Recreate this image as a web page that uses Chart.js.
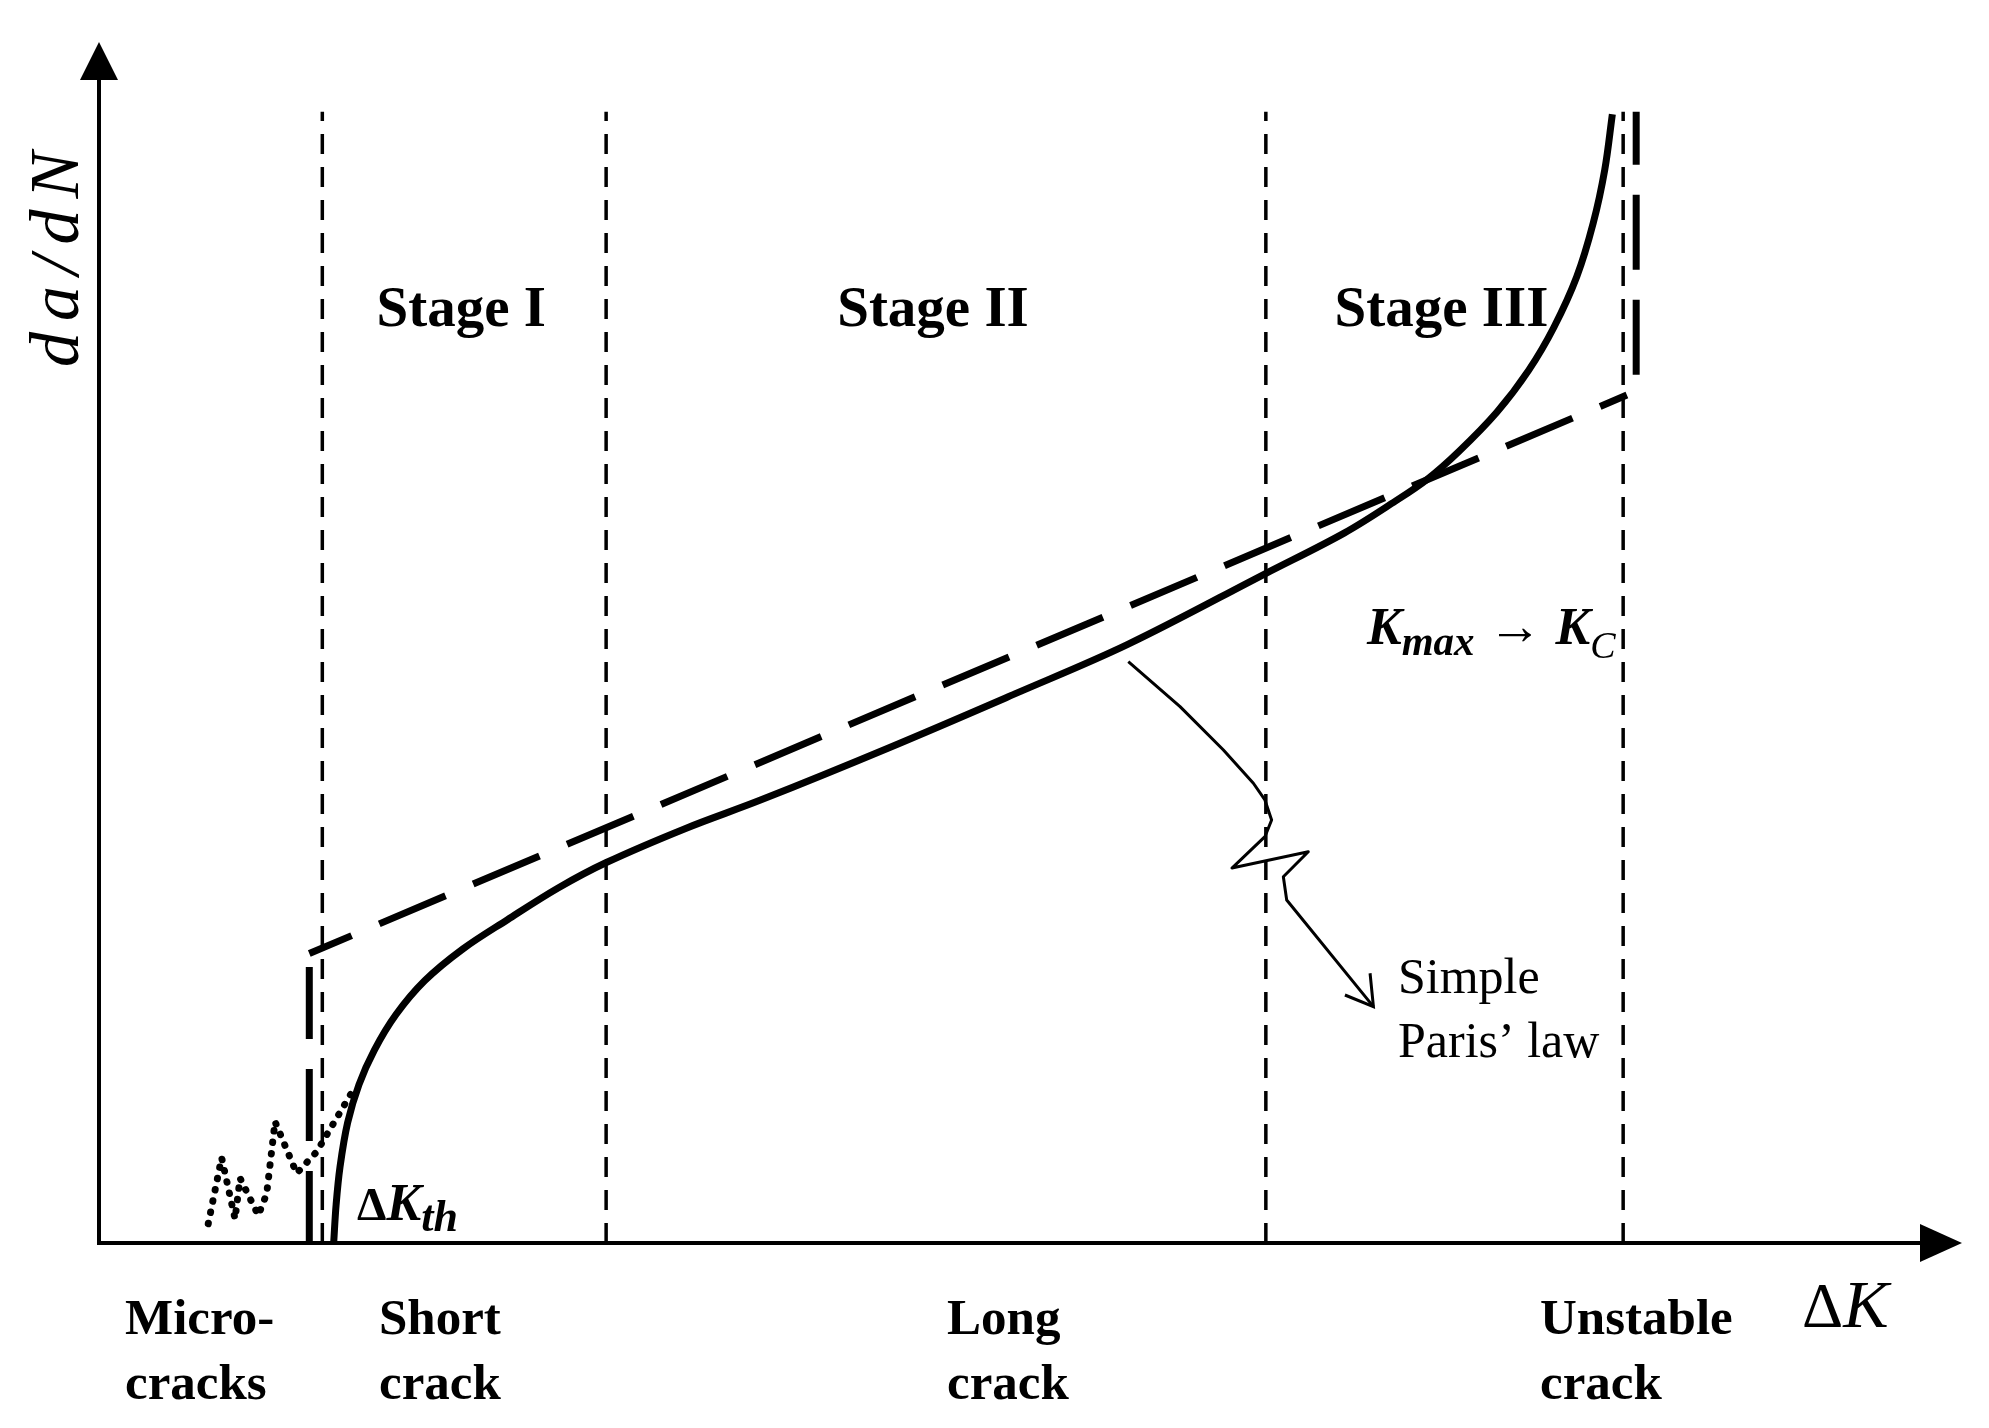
<!DOCTYPE html>
<html>
<head>
<meta charset="utf-8">
<title>Fatigue crack growth stages</title>
<script src="https://cdn.jsdelivr.net/npm/chart.js@4.4.1/dist/chart.umd.min.js"></script>
<style>
  html, body { margin: 0; padding: 0; background: #fff; }
  canvas { display: block; }
</style>
</head>
<body>
<canvas id="crackChart" width="1989" height="1428"></canvas>
<script>
// --- Data (x = ΔK, y = da/dN, both in schematic units 0..100) ---
const stageBoundaries = [12.0, 27.25, 62.7, 81.9];
const boundaryTop = 94.2;

const curveK    = [12.61, 12.74, 12.95, 13.36, 13.97, 14.79, 15.95, 17.51, 19.56, 21.95, 24.67, 27.26, 31.49, 35.58, 42.39, 49.21, 55.28, 62.71, 66.93, 69.66, 71.36, 73.07, 75.11, 76.82, 78.18, 79.41, 80.29, 80.91, 81.32];
const curveRate = [0, 3.16, 6.33, 10.02, 13.19, 16.04, 19.0, 21.85, 24.49, 26.92, 29.56, 31.68, 34.5, 36.9, 41.2, 45.72, 49.84, 55.76, 59.13, 61.77, 63.57, 65.9, 69.17, 72.66, 76.25, 80.47, 84.91, 89.35, 93.99];

// Paris line: threshold step, straight part, step up at K_C
const thresholdK    = [11.3, 11.3];
const thresholdRate = [0, 24.1];
const parisK    = [11.3, 82.1];
const parisRate = [24.1, 70.6];
const unstableK    = [82.6, 82.6];
const unstableRate = [72.3, 94.2];

const microK    = [5.87, 6.59, 7.31, 7.58, 8.56, 9.01, 9.46, 10.62, 11.70, 13.76];
const microRate = [1.6, 7.1, 2.0, 5.4, 2.3, 4.1, 10.1, 5.8, 7.6, 13.0];

const pointerK    = [55.31, 58.09, 60.42, 62.03, 62.65, 63.01, 62.65, 60.88, 64.98, 63.64, 63.82, 68.48];
const pointerRate = [48.40, 44.66, 41.05, 38.28, 36.89, 35.22, 33.83, 31.22, 32.58, 30.50, 28.56, 19.68];
const headK    = [66.95, 68.48, 68.30];
const headRate = [20.65, 19.68, 22.46];

const stageLabels = ['Stage I', 'Stage II', 'Stage III'];
const regionLabels = [['Micro-', 'cracks'], ['Short', 'crack'], ['Long', 'crack'], ['Unstable', 'crack']];

const toPoints = (xs, ys) => xs.map((x, i) => ({ x: x, y: ys[i] }));

const SERIF = '"Liberation Serif", "DejaVu Serif", serif';

// draw a row of text pieces with their own fonts / baseline shifts
function drawRuns(ctx, x, y, runs) {
    let cx = x;
    runs.forEach(r => {
        ctx.font = r.f;
        ctx.fillText(r.t, cx, y + (r.dy || 0));
        cx += ctx.measureText(r.t).width;
    });
}

const overlay = {
    id: 'overlay',
    beforeDatasetsDraw(chart) {
        const ctx = chart.ctx;
        const a = chart.chartArea;
        ctx.save();
        ctx.strokeStyle = '#000';
        ctx.fillStyle = '#000';
        ctx.lineWidth = 4;
        // axes
        ctx.beginPath();
        ctx.moveTo(a.left, a.bottom + 2);
        ctx.lineTo(a.left, a.top + 30);
        ctx.moveTo(a.left - 2, a.bottom);
        ctx.lineTo(a.right - 30, a.bottom);
        ctx.stroke();
        // arrow heads
        ctx.beginPath();
        ctx.moveTo(a.left - 19, a.top + 38);
        ctx.lineTo(a.left, a.top);
        ctx.lineTo(a.left + 19, a.top + 38);
        ctx.closePath();
        ctx.fill();
        ctx.beginPath();
        ctx.moveTo(a.right - 40, a.bottom - 19);
        ctx.lineTo(a.right + 2, a.bottom);
        ctx.lineTo(a.right - 40, a.bottom + 19);
        ctx.closePath();
        ctx.fill();
        ctx.restore();
    },
    afterDatasetsDraw(chart) {
        const ctx = chart.ctx;
        const xs = chart.scales.x;
        const ys = chart.scales.y;
        ctx.save();
        ctx.fillStyle = '#000';
        ctx.textBaseline = 'alphabetic';

        // stage titles, centred between boundaries
        ctx.textAlign = 'center';
        ctx.font = 'bold 57px ' + SERIF;
        stageLabels.forEach((s, i) => {
            const mid = (stageBoundaries[i] + stageBoundaries[i + 1]) / 2;
            ctx.fillText(s, xs.getPixelForValue(mid) - 3, ys.getPixelForValue(76.35));
        });

        // region names under the axis
        ctx.textAlign = 'left';
        ctx.font = 'bold 51px ' + SERIF;
        const regionX = [125, 379, 947, 1540];
        regionLabels.forEach((lines, i) => {
            ctx.fillText(lines[0], regionX[i], 1334);
            ctx.fillText(lines[1], regionX[i], 1399);
        });

        // axis titles
        ctx.save();
        ctx.translate(78, 254);
        ctx.rotate(-Math.PI / 2);
        ctx.textAlign = 'center';
        ctx.font = 'italic 70px ' + SERIF;
        ctx.letterSpacing = '11px';
        ctx.fillText('da/dN', 0, 0);
        ctx.restore();

        ctx.textAlign = 'left';
        drawRuns(ctx, 1802, 1327, [
            { t: 'Δ', f: '64px ' + SERIF },
            { t: 'K', f: 'italic 68px ' + SERIF }
        ]);

        // annotations
        drawRuns(ctx, 357, 1220, [
            { t: 'Δ', f: 'bold 47px ' + SERIF },
            { t: 'K', f: 'bold italic 52px ' + SERIF },
            { t: 'th', f: 'bold italic 44px ' + SERIF, dy: 11 }
        ]);
        drawRuns(ctx, 1367, 644, [
            { t: 'K', f: 'bold italic 52px ' + SERIF },
            { t: 'max', f: 'bold italic 41px ' + SERIF, dy: 11 },
            { t: ' → ', f: '54px ' + SERIF },
            { t: 'K', f: 'bold italic 52px ' + SERIF },
            { t: 'C', f: 'italic 38px ' + SERIF, dy: 14 }
        ]);

        ctx.font = '50px ' + SERIF;
        ctx.fillText('Simple', 1398, 993);
        ctx.fillText('Paris’ law', 1398, 1057);
        ctx.restore();
    }
};

const lineBase = { showLine: true, pointRadius: 0, borderColor: '#000', backgroundColor: '#000', fill: false, tension: 0 };

const boundarySets = stageBoundaries.map(b => Object.assign({}, lineBase, {
    label: 'boundary ' + b,
    data: [{ x: b, y: 0 }, { x: b, y: boundaryTop }],
    borderWidth: 3.5,
    borderDash: [20, 13]
}));

const parisStyle = { borderWidth: 7, borderDash: [72, 30] };

const datasets = boundarySets.concat([
    Object.assign({}, lineBase, {
        label: 'Micro-cracks',
        data: toPoints(microK, microRate),
        borderWidth: 7,
        borderDash: [0.5, 11],
        borderCapStyle: 'round'
    }),
    Object.assign({}, lineBase, parisStyle, {
        label: 'Threshold',
        data: toPoints(thresholdK, thresholdRate)
    }),
    Object.assign({}, lineBase, parisStyle, {
        label: 'Simple Paris law',
        data: toPoints(parisK, parisRate),
        borderDashOffset: 26
    }),
    Object.assign({}, lineBase, parisStyle, {
        label: 'Unstable',
        data: toPoints(unstableK, unstableRate),
        borderDash: [75, 30]
    }),
    Object.assign({}, lineBase, {
        label: 'Crack growth rate',
        data: toPoints(curveK, curveRate),
        borderWidth: 7,
        tension: 0.35
    }),
    Object.assign({}, lineBase, {
        label: 'pointer',
        data: toPoints(pointerK, pointerRate),
        borderWidth: 3,
        borderJoinStyle: 'round'
    }),
    Object.assign({}, lineBase, {
        label: 'pointer head',
        data: toPoints(headK, headRate),
        borderWidth: 3
    })
]);

new Chart(document.getElementById('crackChart'), {
    type: 'scatter',
    data: { datasets: datasets },
    options: {
        responsive: false,
        animation: false,
        layout: { padding: { left: 99, top: 42, right: 29, bottom: 185 } },
        scales: {
            x: { type: 'linear', min: 0, max: 100, display: false },
            y: { type: 'linear', min: 0, max: 100, display: false }
        },
        plugins: {
            legend: { display: false },
            tooltip: { enabled: false }
        }
    },
    plugins: [overlay]
});
</script>
</body>
</html>
